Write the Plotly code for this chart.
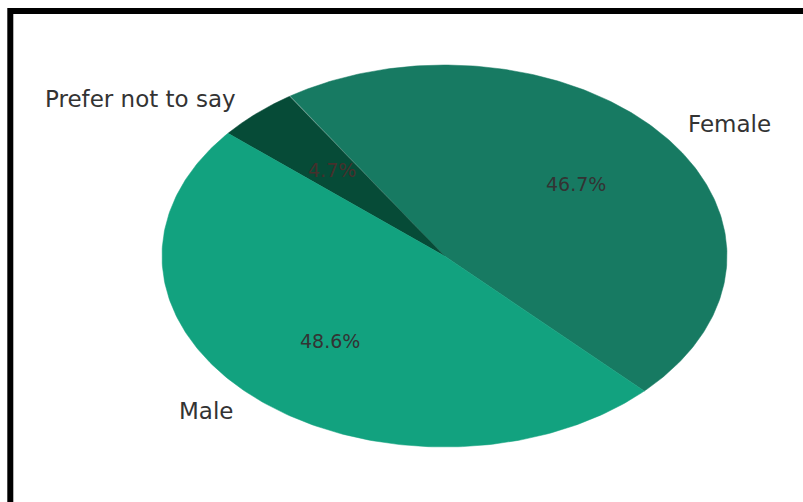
import numpy as np
import plotly.graph_objects as go

# Gender breakdown of respondents (percent)
labels = ["Female", "Prefer not to say", "Male"]
values = [46.7, 4.7, 48.6]
colors = ["#177a62", "#064b37", "#12a27f"]
pct_colors = ["#333333", "#46302c", "#333333"]

W, H = 803, 502
# Pie drawn on a pixel-like coordinate frame, squashed vertically into an ellipse
cx, cy = 444.5, 256.0
rx, ry = 282.5, 191.0
start_deg = -45.0

fig = go.Figure()

fracs = np.array(values) / np.sum(values)
theta0 = start_deg
annotations = []
for lab, frac, col, pcol in zip(labels, fracs, colors, pct_colors):
    theta1 = theta0 + frac * 360.0
    t = np.radians(np.linspace(theta0, theta1, 200))
    xs = np.concatenate([[cx], cx + rx * np.cos(t), [cx]])
    ys = np.concatenate([[cy], cy - ry * np.sin(t), [cy]])
    fig.add_trace(go.Scatter(
        x=xs, y=ys, mode="lines", fill="toself", fillcolor=col,
        line=dict(color=col, width=0.5), hoverinfo="skip", showlegend=False,
    ))
    mid = np.radians((theta0 + theta1) / 2)
    # category label outside the wedge
    lx = cx + 1.1 * rx * np.cos(mid)
    ly = cy - 1.1 * ry * np.sin(mid)
    annotations.append(dict(
        x=lx, y=ly, xref="x", yref="y", text=lab, showarrow=False,
        xanchor="left" if np.cos(mid) > 0 else "right", yanchor="middle",
        font=dict(family="DejaVu Sans", size=23, color="#333333"),
    ))
    # percentage inside the wedge
    px = cx + 0.6 * rx * np.cos(mid)
    py = cy - 0.6 * ry * np.sin(mid)
    annotations.append(dict(
        x=px, y=py, xref="x", yref="y", text=f"{frac * 100:.1f}%", showarrow=False,
        xanchor="center", yanchor="middle",
        font=dict(family="DejaVu Sans", size=19, color=pcol),
    ))
    theta0 = theta1

fig.update_layout(
    width=W, height=H,
    margin=dict(l=0, r=0, t=0, b=0),
    paper_bgcolor="white", plot_bgcolor="white",
    xaxis=dict(range=[0, W], visible=False, fixedrange=True),
    yaxis=dict(range=[H, 0], visible=False, fixedrange=True),
    annotations=annotations,
    shapes=[dict(
        type="rect", xref="x", yref="y",
        x0=10.3, y0=11.0, x1=W + 20, y1=H + 20,
        line=dict(color="black", width=6), fillcolor="rgba(0,0,0,0)",
    )],
)

fig.write_html("out.html", config={"displayModeBar": False})
